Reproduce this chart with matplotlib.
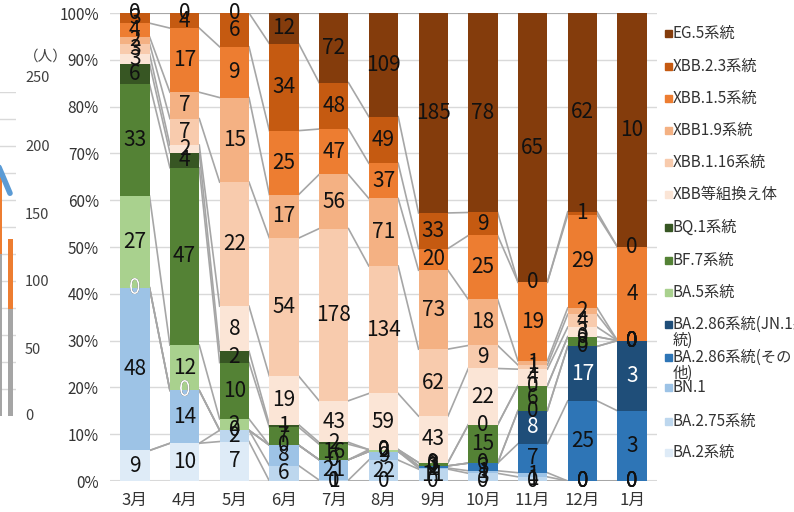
import numpy as np
import matplotlib
matplotlib.use("Agg")
import matplotlib.pyplot as plt
from matplotlib.patches import Rectangle

plt.rcParams['font.family'] = ['Noto Sans CJK JP', 'DejaVu Sans']

nan = np.nan

# months on the x axis
months = ["3月", "4月", "5月", "6月", "7月", "8月", "9月", "10月", "11月", "12月", "1月"]

# detected counts per lineage, stacked from the bottom up (nan = blank cell)
ba2       = [9, 10, 7, nan, 0, 0, 0, 0, 0, 0, 0]
ba275     = [nan, nan, 2, 6, 1, 22, 11, 3, 1, 0, 0]
bn1       = [48, 14, 0, 8, 21, 9, 1, 1, 1, 0, 0]
ba286_etc = [0, 0, nan, nan, nan, nan, 2, 3, 7, 25, 3]
ba286_jn1 = [0, 0, nan, nan, nan, nan, nan, nan, 8, 17, 3]
ba5       = [27, 12, 2, 0, 0, 2, 0, 0, 0, 0, 0]
bf7       = [33, 47, 10, 7, 16, 0, 3, 15, 6, 3, 0]
bq1       = [6, 4, 2, 1, 2, 0, 0, 0, 0, 0, 0]
xbb_rec   = [3, 2, 8, 19, 43, 59, 43, 22, 4, 3, 0]
xbb116    = [3, 7, 22, 54, 178, 134, 62, 9, 1, 4, 0]
xbb19     = [2, 7, 15, 17, 56, 71, 73, 18, 1, 2, 0]
xbb15     = [4, 17, 9, 25, 47, 37, 20, 25, 19, 29, 4]
xbb23     = [3, 4, 6, 34, 48, 49, 33, 9, 0, 1, 0]
eg5       = [0, 0, 0, 12, 72, 109, 185, 78, 65, 62, 10]

series = [ba2, ba275, bn1, ba286_etc, ba286_jn1, ba5, bf7, bq1,
          xbb_rec, xbb116, xbb19, xbb15, xbb23, eg5]
names = ["BA.2系統", "BA.2.75系統", "BN.1", "BA.2.86系統(その\n他)",
         "BA.2.86系統(JN.1系\n統)", "BA.5系統", "BF.7系統", "BQ.1系統",
         "XBB等組換え体", "XBB.1.16系統", "XBB1.9系統", "XBB.1.5系統",
         "XBB.2.3系統", "EG.5系統"]
colors = ["#DEEBF7", "#BDD7EE", "#9DC3E6", "#2E75B6", "#1F4E79",
          "#A9D18E", "#548235", "#375623",
          "#FBE5D6", "#F8CBAD", "#F4B183", "#ED7D31", "#C55A11", "#843C0C"]
label_colors = ["#111111"] * 14
label_colors[4] = "white"

# fragment of the neighbouring chart cut off at the left edge
frag_ticks = ["250", "200", "150", "100", "50", "0"]
frag_gray = [120, 79]
frag_orange = [64, 52]
frag_line = [186, 165]

fig = plt.figure(figsize=(7.94, 5.12), dpi=100)
W, H = 794, 512

# ---------------- left fragment ----------------
axl = fig.add_axes([0, 96 / H, 16 / W, 324 / H])
axl.set_xlim(0, 16)
axl.set_ylim(0, 240)
for gy in range(20, 241, 20):
    axl.axhline(gy, color="#D9D9D9", lw=1, zorder=0)
axl.bar([1, 10], frag_gray, width=[2.5, 5], color="#A5A5A5", zorder=2)
axl.bar([1, 10], frag_orange, bottom=frag_gray, width=[2.5, 5], color="#ED7D31", zorder=2)
axl.plot([-2, 10], frag_line, color="#5B9BD5", lw=4, solid_capstyle="round", zorder=3)
axl.axis("off")
fig.text(24 / W, 1 - 57 / H, "（人）", fontsize=10.5, color="#404040", va="center")
for lab, py in zip(frag_ticks, [78, 147, 215, 282, 350, 416]):
    fig.text(25 / W, 1 - py / H, lab, fontsize=10.5, color="#404040", va="center")

# ---------------- main 100% stacked chart ----------------
ax = fig.add_axes([110 / W, 31 / H, 547 / W, 468 / H])
data = np.array(series, dtype=float)
filled = np.nan_to_num(data)
totals = filled.sum(axis=0)
share = filled / totals
x = np.arange(len(months))
bw = 0.59

for gy in np.arange(0.1, 1.01, 0.1):
    ax.axhline(gy, color="#D9D9D9", lw=1, zorder=0)
ax.axhline(0, color="#D9D9D9", lw=1.5, zorder=0)

cum = np.zeros(len(months))
for k in range(len(series)):
    bottom = cum.copy()
    cum = cum + share[k]
    # series lines between neighbouring bars
    for i in range(len(months) - 1):
        ax.plot([x[i] + bw / 2, x[i + 1] - bw / 2], [cum[i], cum[i + 1]],
                color="#A6A6A6", lw=1.2, zorder=1)
    ax.bar(x, share[k], bottom=bottom, width=bw, color=colors[k], lw=0, zorder=2)
    for i in range(len(months)):
        if np.isnan(data[k, i]):
            continue
        ax.text(x[i], bottom[i] + share[k, i] / 2, f"{int(data[k, i])}",
                ha="center", va="center", fontsize=15, color=label_colors[k], zorder=5)

ax.set_xlim(-0.5, len(months) - 0.5)
ax.set_ylim(0, 1)
ax.set_xticks(x)
ax.set_xticklabels(months, fontsize=12, color="#333333")
ax.set_yticks(np.arange(0, 1.01, 0.1))
ax.set_yticklabels([f"{int(round(v * 100))}%" for v in np.arange(0, 1.01, 0.1)],
                   fontsize=11, color="#333333")
ax.tick_params(length=0, pad=8)
for s in ax.spines.values():
    s.set_visible(False)

# ---------------- legend (top entry first) ----------------
leg_y = [452, 421, 387, 357, 324, 292, 260, 227, 194, 162, 130, 98, 66, 33]
for k in range(len(series)):
    py = leg_y[k]
    fig.patches.append(Rectangle((665 / W, 1 - (py + 3.5) / H), 7 / W, 7 / H,
                                 transform=fig.transFigure, color=colors[k]))
    lines = names[k].split("\n")
    for j, line in enumerate(lines):
        fig.text(673 / W, 1 - (py + 16 * j) / H, line, fontsize=11,
                 color="#333333", va="center")

fig.savefig("out.png", dpi=100)
